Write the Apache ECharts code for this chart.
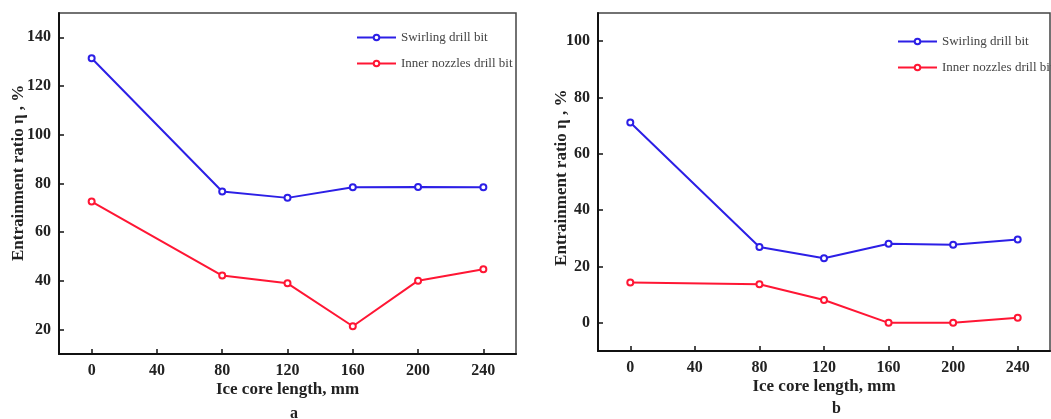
<!DOCTYPE html>
<html>
<head>
<meta charset="utf-8">
<script src="https://cdn.jsdelivr.net/npm/echarts@6/dist/echarts.min.js"></script>
<style>
  html, body { margin: 0; padding: 0; background: #fff; }
  #main { width: 1051px; height: 419px; }
</style>
</head>
<body>
<div id="main"></div>
<script>
  var lengths = [0, 80, 120, 160, 200, 240];
  var xTicks = [0, 40, 80, 120, 160, 200, 240];
  var yTicksA = [20, 40, 60, 80, 100, 120, 140];
  var yTicksB = [0, 20, 40, 60, 80, 100];

  // panel a
  var swirlA = [131.4, 76.7, 74.1, 78.5, 78.6, 78.5];
  var innerA = [72.6, 42.2, 39.0, 21.4, 40.1, 44.8];
  // panel b
  var swirlB = [71.1, 26.9, 22.9, 28.1, 27.7, 29.6];
  var innerB = [14.3, 13.7, 8.1, 0.0, 0.0, 1.8];

  var names = ['Swirling drill bit', 'Inner nozzles drill bit'];
  var blue = '#2c1fe6', red = '#ff1634';
  var font = '"Liberation Serif", "Times New Roman", serif';

  function pairs(ys) {
    return lengths.map(function (x, i) { return [x, ys[i]]; });
  }

  function xAxis(idx) {
    return {
      type: 'value', gridIndex: idx, min: -20, max: 260,
      axisLine: { onZero: false, lineStyle: { color: '#111', width: 2 } },
      axisTick: { inside: true, length: 5, customValues: xTicks, lineStyle: { color: '#111', width: 1.5 } },
      splitLine: { show: false },
      axisLabel: {
        margin: 9, color: '#222', fontFamily: font, fontWeight: 'bold', fontSize: 16,
        customValues: xTicks
      },
      name: 'Ice core length, mm', nameLocation: 'middle', nameGap: 27, nameMoveOverlap: false,
      nameTextStyle: { color: '#222', fontFamily: font, fontWeight: 'bold', fontSize: 17 }
    };
  }

  function yAxis(idx, min, max, ticks, pad, gap) {
    return {
      type: 'value', gridIndex: idx, min: min, max: max,
      axisLine: { onZero: false, lineStyle: { color: '#111', width: 2 } },
      axisTick: { inside: true, length: 5, customValues: ticks, lineStyle: { color: '#111', width: 1.5 } },
      splitLine: { show: false },
      axisLabel: {
        margin: 8, color: '#222', fontFamily: font, fontWeight: 'bold', fontSize: 16,
        customValues: ticks
      },
      name: pad + 'Entrainment ratio η , %', nameLocation: 'middle', nameGap: gap, nameMoveOverlap: false,
      nameTextStyle: { color: '#222', fontFamily: font, fontWeight: 'bold', fontSize: 17 }
    };
  }

  function line(name, color, idx, ys) {
    return {
      name: name, type: 'line', xAxisIndex: idx, yAxisIndex: idx,
      data: pairs(ys), symbol: 'emptyCircle', symbolSize: 6,
      lineStyle: { color: color, width: 2 },
      itemStyle: { color: color, borderColor: color, borderWidth: 1 }
    };
  }

  function legend(left, top) {
    return {
      data: names, orient: 'vertical', left: left, top: top,
      itemWidth: 39, itemHeight: 7, itemGap: 13,
      textStyle: { color: '#444', fontFamily: font, fontSize: 13 },
      selectedMode: false
    };
  }

  var chart = echarts.init(document.getElementById('main'));
  chart.setOption({
    animation: false,
    backgroundColor: '#fff',
    grid: [
      { left: 59, top: 13, width: 457, height: 341, show: true, borderColor: '#444', borderWidth: 1.5 },
      { left: 598, top: 13, width: 452, height: 338, show: true, borderColor: '#444', borderWidth: 1.5 }
    ],
    xAxis: [xAxis(0), xAxis(1)],
    yAxis: [
      yAxis(0, 10, 150, yTicksA, '     ', 32),
      yAxis(1, -10, 110, yTicksB, '  ', 28)
    ],
    legend: [legend(351, 26), legend(892, 30)],
    series: [
      line(names[0], blue, 0, swirlA),
      line(names[1], red, 0, innerA),
      line(names[0], blue, 1, swirlB),
      line(names[1], red, 1, innerB)
    ],
    graphic: [
      { type: 'text', left: 290, top: 406, style: { text: 'a', fill: '#222', font: 'bold 16px ' + font } },
      { type: 'text', left: 832, top: 401, style: { text: 'b', fill: '#222', font: 'bold 16px ' + font } }
    ]
  });
</script>
</body>
</html>
